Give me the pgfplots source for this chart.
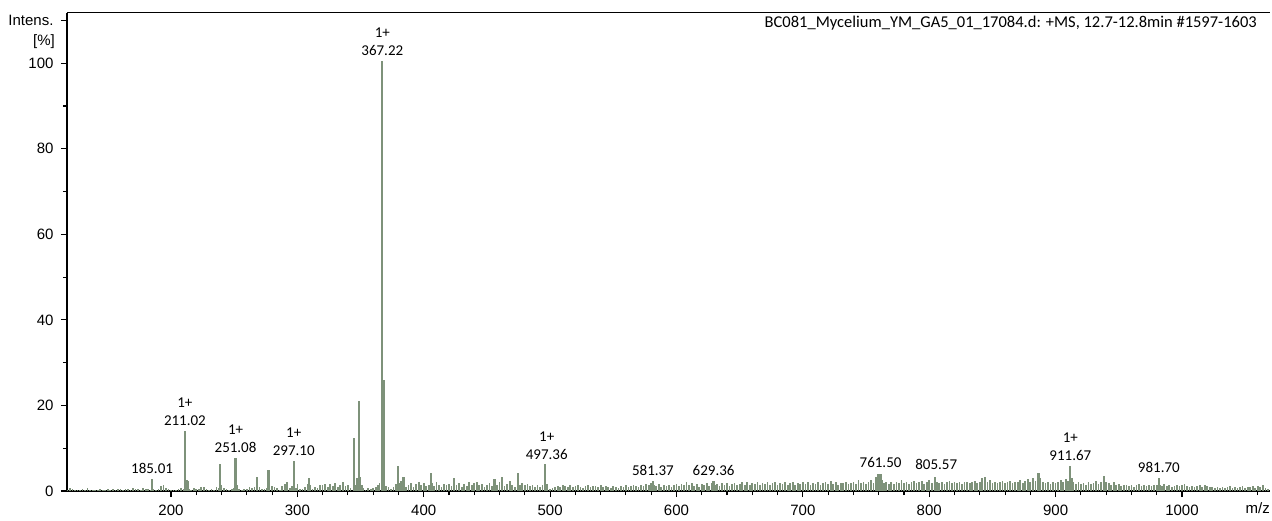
\documentclass[border=0pt]{standalone}
\usepackage{pgfplots}
\pgfplotsset{compat=1.18}
\usepackage{fontspec}
\setmainfont{Liberation Sans}
\newfontfamily\calibri{Carlito}
\definecolor{msgreen}{RGB}{126,146,122}

\begin{document}
\begin{tikzpicture}
\begin{axis}[
  scale only axis, width=1203pt, height=478.3pt,
  xmin=117.7, xmax=1069.6, ymin=0, ymax=111.8,
  axis x line*=bottom, axis y line*=left,
  axis line style={line width=1.3pt},
  tick align=outside, tick style={black,line width=1.1pt},
  major tick length=6pt, minor tick length=4pt,
  xtick={200,300,...,1000}, minor x tick num=4,
  ytick={0,20,...,100}, minor y tick num=1,
  extra y ticks={110}, extra y tick labels={Intens.},
  extra x ticks={1060}, extra x tick labels={m/z},
  extra x tick style={major tick length=4pt},
  /pgf/number format/assume math mode=true,
  /pgf/number format/1000 sep={},
  ticklabel style={font=\fontsize{15}{18}\selectfont},
  xticklabel style={yshift=-6pt, inner sep=1.5pt},
  yticklabel style={xshift=-4pt},
  clip=false,
]
% noise
\addplot[ycomb, msgreen, line width=1.7pt, mark=none] coordinates {
(118,0.3)(120,0.8)(122,0.4)(124,0.2)(126,0.3)(128,0.2)(130,0.4)(132,0.3)(134,0.6)(136,0.3)
(138,0.2)(140,0.3)(142,0.2)(144,0.4)(146,0.3)(148,0.2)(150,0.4)(152,0.3)(154,0.5)(156,0.3)
(158,0.4)(160,0.5)(162,0.3)(164,0.4)(166,0.5)(168,0.3)(170,0.6)(172,0.4)(174,0.5)(176,0.3)
(178,0.6)(180,0.4)(182,0.5)(184,0.3)(186,0.4)(188,0.3)(190,0.5)(192,1.2)(194,1.5)(196,0.8)
(198,0.4)(200,0.3)(202,0.3)(204,0.2)(206,0.4)(208,0.8)(210,0.5)(214,0.4)(216,0.3)(218,0.7)
(220,0.5)(222,0.4)(224,1.0)(226,0.9)(228,0.5)(230,0.3)(232,0.4)(234,0.3)(236,0.9)(238,0.6)
(240,1.5)(242,0.6)(244,0.4)(246,0.3)(248,0.5)(250,0.6)(252,1.5)(254,0.4)(256,0.3)(258,0.5)
(260,0.4)(262,1.0)(264,0.8)(266,1.0)(270,0.9)(272,0.4)(274,0.5)(276,0.6)(278,1.4)(280,1.2)
(282,1.0)(284,0.6)(286,0.3)(288,1.2)(290,1.6)(292,2.1)(294,0.8)(296,1.2)(299,0.6)(300,1.7)
(302,0.5)(304,0.4)(306,1.0)(308,1.7)(310,1.4)(312,0.5)(314,1.0)(316,0.6)(318,1.5)(320,1.3)
(322,1.6)(324,1.0)(326,1.7)(328,1.2)(330,1.8)(332,1.0)(334,1.4)(336,2.0)(338,1.2)(340,1.5)
(342,0.7)(346,1.5)(347,3.0)(350,3.2)(351,1.5)(352,0.6)(354,0.3)(356,0.8)(358,0.4)(360,0.7)
(362,1.0)(364,1.3)(365,1.8)(369,2.0)(370,1.2)(372,0.9)(374,0.5)(376,1.0)(378,1.6)(381,1.8)
(382,2.3)(386,1.0)(388,1.4)(390,1.8)(392,1.0)(394,1.6)(396,2.0)(398,1.4)(400,1.8)(402,1.2)
(404,1.5)(407,1.8)(408,1.2)(410,2.0)(412,1.5)(414,1.0)(416,1.7)(418,1.3)(420,1.6)(422,1.2)
(426,1.4)(428,1.8)(430,1.0)(432,1.6)(434,1.2)(436,2.1)(438,1.5)(440,1.8)(442,2.2)(444,1.3)
(446,1.7)(448,1.0)(450,1.4)(452,1.8)(454,1.2)(458,1.5)(460,2.0)(464,1.2)(466,1.6)(468,2.4)
(470,1.4)(472,1.0)(476,1.5)(478,1.8)(480,1.3)(482,1.7)(484,1.2)(486,1.4)(488,1.0)(490,1.3)
(492,0.9)(494,1.5)(497.5,1.6)(498,0.8)(500,0.5)(502,0.8)(504,0.9)(506,1.2)(508,1.0)(510,1.4)
(512,1.1)(514,0.9)(516,1.3)(518,1.0)(520,1.2)(522,1.4)(524,1.0)(526,0.8)(528,1.2)(530,1.3)
(532,0.9)(534,1.1)(536,1.2)(538,1.0)(540,1.3)(542,0.9)(544,1.2)(546,1.0)(548,0.8)(550,1.1)
(552,1.0)(554,0.8)(556,1.2)(558,1.0)(560,1.3)(562,0.9)(564,1.1)(566,1.4)(568,1.2)(570,1.0)
(572,1.5)(574,1.2)(576,1.6)(578,1.3)(580,1.8)(582,1.5)(584,1.2)(586,1.7)(588,1.0)(590,1.4)
(592,1.2)(594,1.5)(596,1.0)(598,1.3)(600,1.6)(602,1.1)(604,1.7)(606,1.4)(608,2.0)(610,1.5)
(612,1.8)(614,1.2)(616,1.6)(618,1.0)(620,1.7)(622,1.3)(624,1.8)(626,1.2)(628,1.9)(631,1.5)
(632,1.7)(634,1.2)(636,1.8)(638,1.4)(640,1.9)(642,1.2)(644,1.6)(646,1.8)(648,1.3)(650,1.7)
(652,2.0)(654,1.5)(656,2.1)(658,1.4)(660,1.8)(662,1.6)(664,2.2)(666,1.3)(668,1.9)(670,1.7)
(672,2.1)(674,1.4)(676,1.8)(678,2.2)(680,1.5)(682,1.9)(684,1.6)(686,2.0)(688,1.4)(690,1.8)
(692,2.1)(694,1.5)(696,1.9)(698,1.7)(700,2.2)(702,1.6)(704,2.0)(706,1.5)(708,1.9)(710,1.7)
(712,2.1)(714,1.5)(716,1.8)(718,2.0)(720,1.6)(722,2.4)(724,1.7)(726,2.0)(728,1.5)(730,1.9)
(732,1.8)(734,2.2)(736,1.6)(738,1.9)(740,2.1)(742,1.7)(744,2.6)(746,1.8)(748,2.0)(750,1.6)
(752,2.2)(754,2.5)(756,1.9)(758,3.2)(763,2.6)(764,1.8)(766,2.2)(768,1.6)(770,2.0)(772,1.7)
(774,2.1)(776,1.8)(778,2.5)(780,1.9)(782,2.2)(784,1.7)(786,2.0)(788,2.4)(790,1.8)(792,2.1)
(794,2.3)(796,1.7)(798,2.0)(800,2.5)(802,1.9)(806,2.2)(808,1.8)(810,2.1)(812,1.7)(814,2.0)
(816,2.3)(818,1.8)(820,2.1)(822,1.9)(824,2.2)(826,1.7)(828,2.0)(830,2.2)(832,1.8)(834,2.1)
(836,2.4)(838,1.9)(840,2.2)(842,3.0)(844,3.3)(846,2.0)(848,2.6)(850,1.9)(852,2.2)(854,1.8)
(856,2.1)(858,2.4)(860,1.8)(862,2.0)(864,2.3)(866,1.9)(868,2.2)(870,2.0)(872,2.5)(874,1.8)
(876,2.3)(878,2.7)(880,2.2)(882,3.0)(884,2.4)(888,3.0)(890,2.2)(892,1.8)(894,2.0)(896,1.7)
(898,2.1)(900,1.9)(902,2.2)(904,2.6)(906,2.0)(908,2.8)(910,2.3)(913,3.0)(914,2.0)(916,1.7)
(918,2.0)(920,1.6)(922,1.9)(924,1.5)(926,2.2)(928,1.7)(930,1.9)(932,2.4)(934,1.6)(936,2.0)
(940,2.2)(942,1.8)(944,1.5)(946,2.0)(948,1.4)(950,1.7)(952,1.2)(954,1.5)(956,1.3)(958,1.1)
(960,1.4)(962,1.0)(964,1.3)(966,1.6)(968,1.2)(970,1.4)(972,1.1)(974,1.3)(976,1.2)(978,1.5)
(980,1.3)(983,1.4)(984,1.2)(986,1.6)(988,1.1)(990,1.3)(992,1.0)(994,1.2)(996,1.4)(998,1.1)
(1000,1.3)(1002,1.6)(1004,1.2)(1006,1.0)(1008,1.2)(1010,0.9)(1012,1.1)(1014,1.3)(1016,1.0)(1018,1.4)
(1020,1.2)(1022,0.9)(1024,1.0)(1026,0.7)(1028,0.9)(1030,0.8)(1032,1.0)(1034,0.6)(1036,0.9)(1038,1.1)
(1040,0.8)(1042,1.0)(1044,0.7)(1046,0.9)(1048,1.2)(1050,0.8)(1052,1.0)(1054,0.9)(1056,1.1)(1058,0.8)
(1060,1.2)(1062,0.9)(1064,1.3)(1066,0.8)(1068,0.5)
};
% peaks
\addplot[ycomb, msgreen, line width=2.2pt, mark=none] coordinates {
(185.01,2.8)(211.02,14)(212.3,2.5)(213.3,2.3)(239,6.3)(251.08,7.7)(268,3.2)(277.2,4.8)
(297.10,7)(309,3)(344.8,12.5)(349,21)(367.22,100.5)(368.4,26)(379.5,5.8)(384,3.3)
(405.5,4.2)(424,3.1)(456,2.8)(462,3.3)(474.5,4.1)(496,6.2)(581.37,2.3)(629.36,2.4)
(759.5,3.9)(761.50,4.0)(804.5,3.3)(886.5,4.3)(911.67,5.8)(938.5,3.5)(981.70,3.0)
};
\draw[line width=1.3pt] (rel axis cs:0,1) -- (rel axis cs:1,1);
\node[anchor=north east, font=\calibri\fontsize{16.5}{19}\selectfont, inner sep=0pt]
  at (rel axis cs:1,1) [xshift=-13pt, yshift=-3pt] {BC081\_Mycelium\_YM\_GA5\_01\_17084.d: +MS, 12.7-12.8min \#1597-1603};
\node[anchor=east, font=\fontsize{15}{18}\selectfont, inner sep=0pt]
  at (axis cs:117.7,105) [xshift=-12pt] {[\%]};
\begin{scope}[every node/.style={anchor=south, align=center, inner sep=0pt, yshift=5pt,
    font=\calibri\fontsize{15}{18}\selectfont}]
\node at (axis cs:185.01,2.8) {185.01};
\node at (axis cs:211.02,14) {1+\\211.02};
\node at (axis cs:251.08,7.7) {1+\\251.08};
\node at (axis cs:297.10,7) {1+\\297.10};
\node at (axis cs:367.22,100.5) {1+\\367.22};
\node at (axis cs:497.36,6.2) {1+\\497.36};
\node at (axis cs:581.37,2.4) {581.37};
\node at (axis cs:629.36,2.4) {629.36};
\node at (axis cs:761.50,4.3) {761.50};
\node at (axis cs:805.57,3.7) {805.57};
\node at (axis cs:911.67,5.8) {1+\\911.67};
\node at (axis cs:981.70,3.1) {981.70};
\end{scope}
\end{axis}
\pgfresetboundingbox
\path (-67pt,-29pt) rectangle (1205pt,491pt);
\end{tikzpicture}
\end{document}
